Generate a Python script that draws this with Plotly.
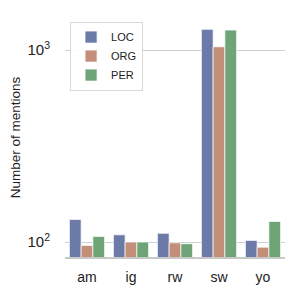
import plotly.graph_objects as go

languages = ["am", "ig", "rw", "sw", "yo"]
loc_counts = [131, 109, 111, 1282, 102]
org_counts = [96, 100, 99, 1040, 94]
per_counts = [107, 100, 98, 1271, 128]
series_names = ["LOC", "ORG", "PER"]
colors = ["rgb(108,122,168)", "rgb(196,143,121)", "rgb(111,164,121)"]

fig = go.Figure()
for name, vals, col in zip(series_names, [loc_counts, org_counts, per_counts], colors):
    fig.add_trace(go.Bar(
        x=languages, y=vals, name=name,
        marker=dict(color=col, line=dict(color="rgba(255,255,255,0.7)", width=1)),
    ))

# page body has an 8px margin; figure is 295x295 so it ends at 303
fig.update_layout(
    width=295, height=295,
    margin=dict(l=57, r=18, t=10, b=46, autoexpand=False),
    paper_bgcolor="white", plot_bgcolor="white",
    font=dict(family="Liberation Sans, Arial, sans-serif", size=13, color="#222"),
    barmode="group", bargap=0.2, bargroupgap=0.0,
    showlegend=True,
    legend=dict(x=0.023, y=0.985, xanchor="left", yanchor="top",
                bgcolor="rgba(255,255,255,0.9)", bordercolor="#d8d8d8", borderwidth=1,
                font=dict(size=11, color="#222"), tracegroupgap=0, itemwidth=30),
    xaxis=dict(showgrid=False, showline=True, linecolor="#c8c8c8", linewidth=1.5,
               ticks="", tickfont=dict(size=14), ticklabelstandoff=6),
    yaxis=dict(type="log", range=[1.922, 3.167], showline=False, zeroline=False,
               showgrid=True, gridcolor="#d0d0d0", gridwidth=1,
               tickvals=[100, 1000], ticktext=["10<sup>2</sup>", "10<sup>3</sup>"],
               ticks="", tickfont=dict(size=15), ticklabelstandoff=14,
               title=dict(text="Number of mentions", font=dict(size=13.5), standoff=5)),
)

fig.write_html("out.html")
